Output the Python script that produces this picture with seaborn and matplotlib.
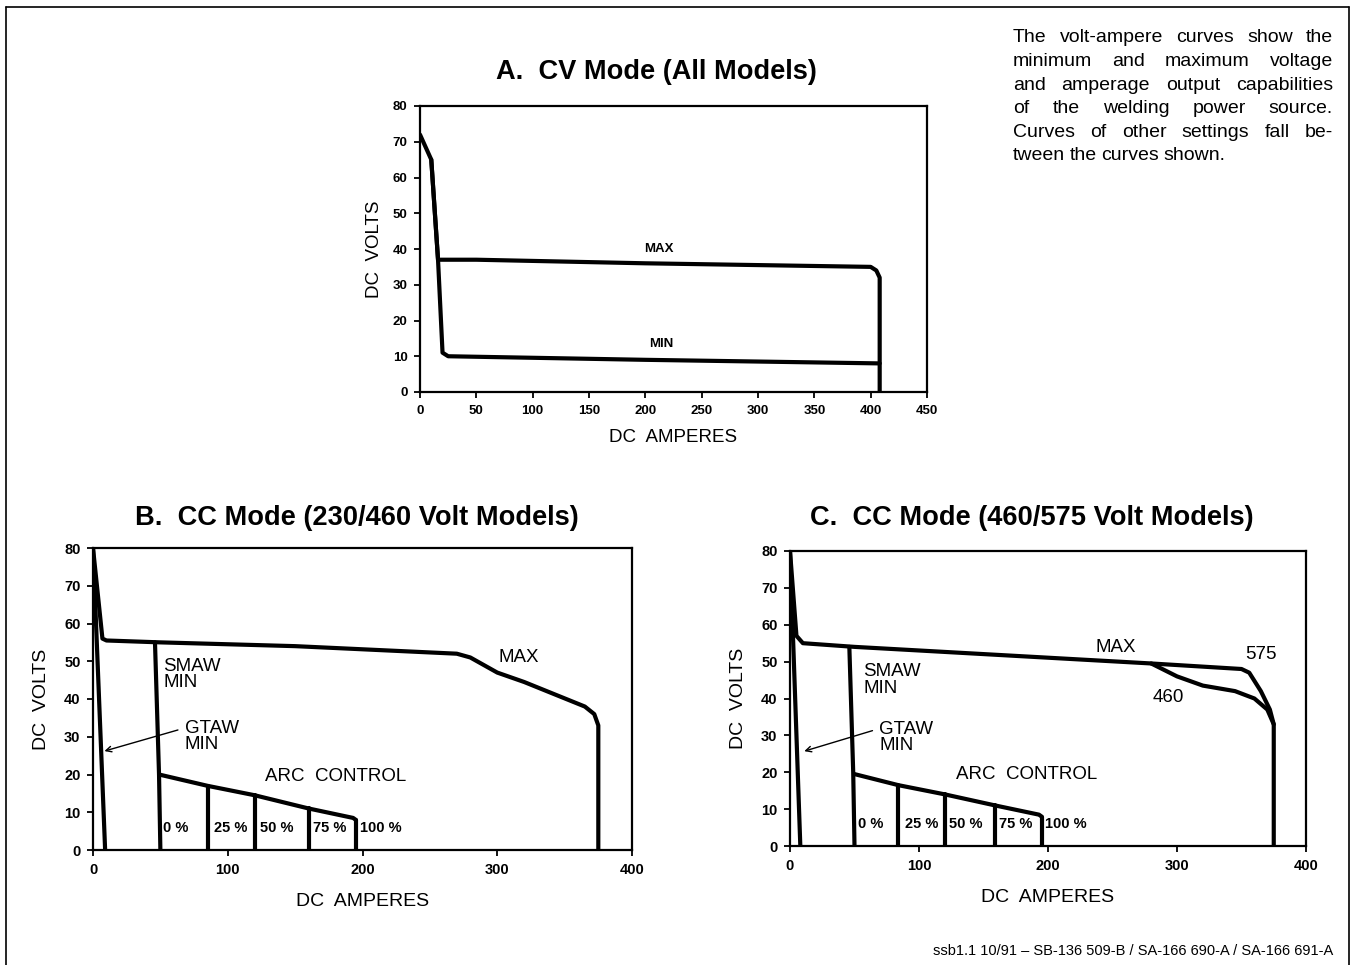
import pandas as pd
import seaborn as sns
import matplotlib.pyplot as plt
from matplotlib.lines import Line2D

# --- Panel A : CV mode (all models) ---
a_max_x = [0, 10, 16, 50, 200, 400, 405, 408, 408]
a_max_y = [72, 65, 37, 37, 36, 35, 34, 32, 0]
a_min_x = [10, 16, 20, 25, 200, 408]
a_min_y = [65, 37, 11, 10, 9, 8]

# --- Panel B : CC mode (230/460 V) ---
b_max_x = [0, 7, 10, 50, 150, 270, 280, 300, 320, 365, 372, 375, 375]
b_max_y = [80, 56, 55.5, 55, 54, 52, 51, 47, 44.5, 38, 36, 33, 0]
b_gtaw_x = [0, 9]
b_gtaw_y = [80, 0]
b_smaw_x = [46, 49, 50]
b_smaw_y = [55, 20, 0]
b_arc_x = [49, 85, 120, 160, 193, 195]
b_arc_y = [20, 17, 14.5, 11, 8.5, 8]
b_step_x = [85, 120, 160, 195]
b_step_top = [17, 14.5, 11, 8]

# --- Panel C : CC mode (460/575 V) ---
c_max_x = [0, 5, 10, 50, 280, 350, 356, 365, 372, 375, 375]
c_max_y = [80, 57, 55, 54, 49.5, 48, 47, 42, 37, 33, 0]
c_460_x = [280, 300, 320, 345, 360, 370, 375]
c_460_y = [49.5, 46, 43.5, 42, 40, 37, 33]
c_gtaw_x = [0, 8]
c_gtaw_y = [80, 0]
c_smaw_x = [46, 49, 50]
c_smaw_y = [54, 20, 0]
c_arc_x = [50, 84, 120, 159, 193, 195]
c_arc_y = [19.5, 16.5, 14, 11, 8.5, 8]
c_step_x = [84, 120, 159, 195]
c_step_top = [16.5, 14, 11, 8]

pct_labels = ["0 %", "25 %", "50 %", "75 %", "100 %"]
b_pct_x = [52, 90, 124, 163, 198]
c_pct_x = [53, 89, 123, 162, 198]

titles = ["A.  CV Mode (All Models)", "B.  CC Mode (230/460 Volt Models)",
          "C.  CC Mode (460/575 Volt Models)"]

para_lines = [
    "The volt-ampere curves show the",
    "minimum and maximum voltage",
    "and amperage output capabilities",
    "of the welding power source.",
    "Curves of other settings fall be-",
    "tween the curves shown.",
]
footer = "ssb1.1 10/91 \u2013 SB-136 509-B / SA-166 690-A / SA-166 691-A"


def curves_df(curves):
    rows = []
    for name, xs, ys in curves:
        for x, y in zip(xs, ys):
            rows.append({"curve": name, "amps": x, "volts": y})
    return pd.DataFrame(rows)


def steps(prefix, xs, tops):
    return [(f"{prefix}{i}", [x, x], [t, 0]) for i, (x, t) in enumerate(zip(xs, tops))]


sns.set_style("white")
plt.rcParams["font.family"] = ["Liberation Sans", "DejaVu Sans"]
for k in ["text.color", "axes.labelcolor", "xtick.color", "ytick.color"]:
    plt.rcParams[k] = "black"

W, H = 1354, 965
fig = plt.figure(figsize=(W / 100, H / 100), dpi=100)


def px_axes(left, top, right, bottom):
    return fig.add_axes([left / W, 1 - bottom / H, (right - left) / W, (bottom - top) / H])


def style_axes(ax, xmax, xstep, tick_fs, label_fs, labelpad):
    ax.set_xlim(0, xmax)
    ax.set_ylim(0, 80)
    ax.set_xticks(range(0, xmax + 1, xstep))
    ax.set_yticks(range(0, 81, 10))
    for s in ax.spines.values():
        s.set_linewidth(1.6)
        s.set_color("black")
    ax.tick_params(direction="out", length=4, width=1.3, labelsize=tick_fs, pad=5,
                   bottom=True, left=True)
    for lab in ax.get_xticklabels() + ax.get_yticklabels():
        lab.set_fontweight("bold")
    ax.set_xlabel("DC  AMPERES", fontsize=label_fs, labelpad=labelpad)
    ax.set_ylabel("DC  VOLTS", fontsize=label_fs, labelpad=labelpad - 2)
    leg = ax.get_legend()
    if leg:
        leg.remove()


# Panel A
axA = px_axes(420, 106, 927, 392)
dfA = curves_df([("max", a_max_x, a_max_y), ("min", a_min_x, a_min_y)])
sns.lineplot(data=dfA, x="amps", y="volts", units="curve", estimator=None, sort=False,
             color="black", linewidth=3, ax=axA)
style_axes(axA, 450, 50, 9.5, 13.5, 9)
axA.text(212, 40, "MAX", fontsize=9.5, fontweight="bold", ha="center", va="center")
axA.text(214, 13.3, "MIN", fontsize=9.5, fontweight="bold", ha="center", va="center")

# Panel B
axB = px_axes(93, 548, 632, 850)
dfB = curves_df([("max", b_max_x, b_max_y), ("gtaw", b_gtaw_x, b_gtaw_y),
                 ("smaw", b_smaw_x, b_smaw_y), ("arc", b_arc_x, b_arc_y)]
                + steps("s", b_step_x, b_step_top))
sns.lineplot(data=dfB, x="amps", y="volts", units="curve", estimator=None, sort=False,
             color="black", linewidth=3, ax=axB)
style_axes(axB, 400, 100, 10.5, 14, 12)

# Panel C
axC = px_axes(790, 551, 1306, 846)
dfC = curves_df([("max", c_max_x, c_max_y), ("460", c_460_x, c_460_y),
                 ("gtaw", c_gtaw_x, c_gtaw_y), ("smaw", c_smaw_x, c_smaw_y),
                 ("arc", c_arc_x, c_arc_y)]
                + steps("s", c_step_x, c_step_top))
sns.lineplot(data=dfC, x="amps", y="volts", units="curve", estimator=None, sort=False,
             color="black", linewidth=3, ax=axC)
style_axes(axC, 400, 100, 10.5, 14, 12)

# panel titles (centred where the original has them, not on the axes)
for t, (cx, cy) in zip(titles, [(656, 72), (357, 518), (1032, 518)]):
    fig.text(cx / W, 1 - cy / H, t, fontsize=19.6, fontweight="bold", ha="center", va="center")

lab_kw = dict(fontsize=13.5, va="center", linespacing=0.95)
for ax, smaw_xy, gtaw_xy, head, max_xy, pct_x, pct_y, arc_xy in [
    (axB, (52, 46.5), (68, 30), (6.5, 26), (301, 51), b_pct_x, 5.8, (128, 19.6)),
    (axC, (57, 45), (69, 29.5), (9, 25.5), (237, 53.7), c_pct_x, 6, (129, 19.3)),
]:
    ax.text(*smaw_xy, "SMAW\nMIN", **lab_kw)
    ax.text(*gtaw_xy, "GTAW\nMIN", **lab_kw)
    ax.annotate("", xy=head, xytext=(gtaw_xy[0] - 3, gtaw_xy[1] + 2),
                arrowprops=dict(arrowstyle="->", lw=1, color="black"))
    ax.text(*max_xy, "MAX", **lab_kw)
    ax.text(*arc_xy, "ARC  CONTROL", **lab_kw)
    for x, t in zip(pct_x, pct_labels):
        ax.text(x, pct_y, t, fontsize=10.5, fontweight="bold", va="center")

axC.text(353, 52, "575", **lab_kw)
axC.text(281, 40.4, "460", **lab_kw)

# description paragraph, justified
fig.canvas.draw()
r = fig.canvas.get_renderer()
x0, x1 = 1013, 1333
for i, line in enumerate(para_lines):
    y = 1 - (38 + i * 23.6) / H
    words = line.split()
    texts = [fig.text(0, y, w, fontsize=14, va="center") for w in words]
    widths = [t.get_window_extent(r).width for t in texts]
    gap = (x1 - x0 - sum(widths)) / (len(words) - 1)
    if i == len(para_lines) - 1:
        gap = 4.5
    x = x0
    for t, w in zip(texts, widths):
        t.set_x(x / W)
        x += w + gap

fig.text(1333 / W, 1 - 951 / H, footer, fontsize=10.5, ha="right", va="center")

# page frame: left, top and right edges
for xs, ys in [([6, 6], [H, 7]), ([6, 1349], [7, 7]), ([1349, 1349], [7, H])]:
    fig.add_artist(Line2D([x / W for x in xs], [1 - y / H for y in ys],
                          transform=fig.transFigure, lw=1.2, color="black"))

fig.savefig("out.png", dpi=100)
